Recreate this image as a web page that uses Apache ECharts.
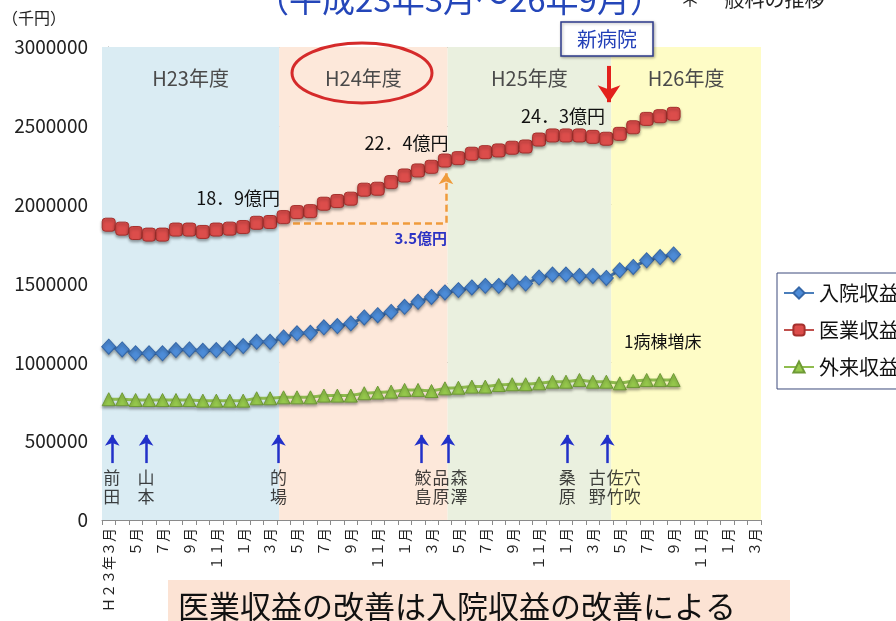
<!DOCTYPE html>
<html>
<head>
<meta charset="utf-8">
<script src="https://cdn.jsdelivr.net/npm/echarts@6/dist/echarts.min.js"></script>
<style>
html,body{margin:0;padding:0;background:#fff}
#chart{width:896px;height:621px}
</style>
</head>
<body>
<div id="chart"></div>
<script>
// 月次の収益推移（千円）  平成23年3月 ～ 平成26年9月
const months = [
  'Ｈ２３年３月','４月','５月','６月','７月','８月','９月','１０月','１１月','１２月','１月','２月',
  '３月','４月','５月','６月','７月','８月','９月','１０月','１１月','１２月','１月','２月',
  '３月','４月','５月','６月','７月','８月','９月','１０月','１１月','１２月','１月','２月',
  '３月','４月','５月','６月','７月','８月','９月','１０月','１１月','１２月','１月','２月',
  '３月'
];

// 入院収益
const nyuin = [
  1099000, 1082000, 1057000, 1057000, 1057000, 1078000, 1082000, 1073000, 1078000, 1089000,
  1103000, 1130000, 1130000, 1158000, 1184000, 1187000, 1222000, 1230000, 1247000, 1285000,
  1299000, 1320000, 1352000, 1384000, 1415000, 1443000, 1458000, 1475000, 1485000, 1485000,
  1510000, 1500000, 1538000, 1557000, 1557000, 1548000, 1548000, 1535000, 1584000, 1605000,
  1647000, 1668000, 1684000
];

// 医業収益
const iryo = [
  1873000, 1848000, 1820000, 1810000, 1810000, 1842000, 1842000, 1827000, 1842000, 1848000,
  1858000, 1885000, 1890000, 1921000, 1953000, 1959000, 2006000, 2023000, 2038000, 2095000,
  2101000, 2143000, 2185000, 2217000, 2240000, 2280000, 2295000, 2323000, 2333000, 2344000,
  2361000, 2369000, 2413000, 2439000, 2439000, 2439000, 2430000, 2418000, 2449000, 2491000,
  2544000, 2561000, 2576000
];

// 外来収益
const gairai = [
  766000, 766000, 761000, 761000, 761000, 761000, 761000, 757000, 757000, 757000,
  757000, 772000, 772000, 778000, 778000, 778000, 789000, 789000, 789000, 804000,
  808000, 814000, 825000, 825000, 818000, 835000, 839000, 846000, 846000, 856000,
  861000, 861000, 867000, 877000, 877000, 888000, 877000, 877000, 867000, 882000,
  888000, 888000, 888000
];

const yTicks = [0, 500000, 1000000, 1500000, 2000000, 2500000, 3000000];

// 年度の区切り（月番号、0 = H23年3月）
const fiscalYears = ['H23年度', 'H24年度', 'H25年度', 'H26年度'];
const fiscalEdges = [-0.5, 12.67, 25.2, 37.36, 48.5];
const fiscalColors = ['#daecf3', '#fde8da', '#eaf0df', '#fefcc6'];

// 医師の着任（月番号）
const staffNames = ['前\n田', '山\n本', '的\n場', '鮫\n島', '品\n原', '森\n澤', '桑\n原', '古\n野', '佐\n竹', '穴\n吹'];
const staffNameAt = [0.22, 2.78, 12.62, 23.37, 24.71, 26.05, 34.09, 36.32, 37.66, 38.93];
const staffArrowAt = [0.26, 2.78, 12.62, 23.27, 25.22, 34.09, 37.07];

// 年度末（3月）の医業収益を注記する月
const fyEndIdx = [12, 24, 36];
const newHospitalAt = 37.2;

const FONT = "'Noto Sans CJK JP', 'Noto Sans', sans-serif";
const oku = v => (v / 100000).toFixed(1);

const chart = echarts.init(document.getElementById('chart'), null, {renderer: 'canvas'});

const markerShadow = {shadowBlur: 3, shadowColor: 'rgba(0,0,0,0.35)', shadowOffsetY: 2};
const lineCommon = {showSymbol: true, showAllSymbol: true, smooth: false};

const option = {
  animation: false,
  backgroundColor: '#ffffff',
  textStyle: {fontFamily: FONT},
  grid: {left: 102, right: 135, top: 47, bottom: 101, containLabel: false},
  legend: {
    orient: 'vertical',
    left: 777, top: 273,
    padding: [10, 8, 12, 6],
    itemGap: 17,
    itemWidth: 30, itemHeight: 14,
    backgroundColor: '#ffffff',
    borderColor: '#3d4a7c', borderWidth: 1,
    textStyle: {fontSize: 20, color: '#111', fontFamily: FONT},
    data: ['入院収益', '医業収益', '外来収益']
  },
  xAxis: [
    {
      type: 'category',
      data: months,
      boundaryGap: true,
      axisLine: {lineStyle: {color: '#8a8a8a', width: 1}},
      axisTick: {show: true, interval: 0, length: 5, lineStyle: {color: '#8a8a8a'}},
      axisLabel: {interval: 1, rotate: 90, fontSize: 14, color: '#222', margin: 8, fontFamily: FONT},
      splitLine: {show: false}
    },
    {type: 'value', min: -0.5, max: 48.5, show: false}
  ],
  yAxis: {
    type: 'value',
    min: yTicks[0], max: yTicks[yTicks.length - 1], interval: 500000,
    offset: 2,
    axisLine: {show: true, lineStyle: {color: '#8a8a8a'}},
    axisTick: {show: true, length: 5, lineStyle: {color: '#8a8a8a'}},
    axisLabel: {fontSize: 19, color: '#222', margin: 12, fontFamily: FONT, formatter: v => String(v)},
    splitLine: {show: true, lineStyle: {color: '#8c8c8c', width: 1}}
  },
  series: [
    {
      // 年度ごとの背景帯
      type: 'scatter', xAxisIndex: 1, yAxisIndex: 0, z: -1,
      data: [], symbolSize: 0, silent: true,
      markArea: {
        silent: true,
        label: {show: true, position: 'insideTop', distance: 21, fontSize: 20, color: '#4a4a4a', fontFamily: FONT},
        data: fiscalYears.map((name, i) => [
          {name: name, xAxis: fiscalEdges[i], itemStyle: {color: fiscalColors[i], opacity: 1}},
          {xAxis: fiscalEdges[i + 1]}
        ])
      }
    },
    Object.assign({
      name: '外来収益', type: 'line', data: gairai, z: 3,
      symbol: 'triangle', symbolSize: 13,
      lineStyle: {color: '#8fbc4e', width: 3},
      itemStyle: Object.assign({color: '#96c94c', borderColor: '#6e9a36', borderWidth: 1}, markerShadow)
    }, lineCommon),
    Object.assign({
      name: '入院収益', type: 'line', data: nyuin, z: 4,
      symbol: 'diamond', symbolSize: [14, 15],
      lineStyle: {color: '#4a7ebb', width: 3},
      itemStyle: Object.assign({color: '#4d8cd8', borderColor: '#3567a8', borderWidth: 1}, markerShadow)
    }, lineCommon),
    Object.assign({
      name: '医業収益', type: 'line', data: iryo, z: 5,
      symbol: 'roundRect', symbolSize: 13,
      lineStyle: {color: '#c0504d', width: 3},
      itemStyle: Object.assign({color: '#dc4d4b', borderColor: '#a5302d', borderWidth: 1}, markerShadow)
    }, lineCommon),
    {
      // 注記：着任矢印・差額矢印・新病院矢印・年度末の金額
      type: 'scatter', xAxisIndex: 1, yAxisIndex: 0, z: 6,
      symbolSize: 0, silent: true,
      data: staffNames.map((n, i) => ({name: n, value: [staffNameAt[i], 207600]})),
      label: {show: true, position: 'inside', formatter: '{b}', fontSize: 17, lineHeight: 19, color: '#111', fontFamily: FONT},
      markLine: {
        silent: true,
        symbol: ['none', 'none'],
        label: {show: false},
        data: staffArrowAt.map(m => [
          {coord: [m, 361000], symbol: 'none', lineStyle: {color: '#2231c9', width: 2.5, type: 'solid'}},
          {coord: [m, 540000], symbol: 'arrow', symbolSize: 11}
        ]).concat([
          [
            {coord: [13.7, 1885000], symbol: 'none', lineStyle: {color: '#ef9b3c', width: 2.5, type: [7, 4]}},
            {coord: [25.08, 1885000], symbol: 'none'}
          ],
          [
            {coord: [25.08, 1885000], symbol: 'none', lineStyle: {color: '#ef9b3c', width: 2.5, type: [7, 4]}},
            {coord: [25.08, 2200000], symbol: 'arrow', symbolSize: 11}
          ],
          [
            {coord: [newHospitalAt, 2880000], symbol: 'none', lineStyle: {color: '#e3211c', width: 4, type: 'solid'}},
            {coord: [newHospitalAt, 2650000], symbol: 'arrow', symbolSize: 17}
          ]
        ])
      },
      markPoint: {
        silent: true,
        symbol: 'circle', symbolSize: 0,
        data: [
          {coord: [fyEndIdx[0], iryo[fyEndIdx[0]]], value: iryo[fyEndIdx[0]], label: {position: [10, -24]}},
          {coord: [fyEndIdx[1], iryo[fyEndIdx[1]]], value: iryo[fyEndIdx[1]], label: {position: [17, -24]}},
          {coord: [fyEndIdx[2], iryo[fyEndIdx[2]]], value: iryo[fyEndIdx[2]], label: {position: [12, -21]}},
          {
            coord: [25.08, 1885000], value: iryo[fyEndIdx[1]] - iryo[fyEndIdx[0]],
            label: {position: [1, 15], color: '#2c33c4', fontSize: 15, fontWeight: 'bold',
                    formatter: p => oku(p.value) + '億円'}
          }
        ],
        label: {
          show: true, align: 'right', verticalAlign: 'middle',
          fontSize: 18, color: '#111', fontFamily: FONT,
          formatter: p => oku(p.value).replace('.', '．') + '億円'
        }
      }
    }
  ],
  graphic: [
    {type: 'text', left: 256, top: -17, z: 10, silent: true,
     style: {text: '（平成23年3月～26年9月）', font: '33px ' + FONT, fill: '#2446b9'}},
    {type: 'text', left: 680, top: -11, z: 10, silent: true,
     style: {text: '＊ 一般科の推移', font: '20px ' + FONT, fill: '#222'}},
    {type: 'text', left: 2, top: 10, z: 10, silent: true,
     style: {text: '（千円）', font: '16px ' + FONT, fill: '#222'}},
    {type: 'rect', z: 10, silent: true,
     shape: {x: 561, y: 22, width: 92, height: 34},
     style: {fill: '#ffffff', stroke: '#2d3a8c', lineWidth: 1.5, shadowBlur: 3, shadowColor: 'rgba(0,0,0,0.3)', shadowOffsetX: 1, shadowOffsetY: 1}},
    {type: 'text', z: 11, silent: true, x: 607, y: 39,
     style: {text: '新病院', font: '20px ' + FONT, fill: '#2340b8', align: 'center', verticalAlign: 'middle'}},
    {type: 'ellipse', z: 10, silent: true,
     shape: {cx: 362, cy: 73, rx: 70, ry: 30},
     style: {fill: 'none', stroke: '#d52a2a', lineWidth: 3}},
    {type: 'text', z: 10, silent: true, x: 624, y: 342,
     style: {text: '1病棟増床', font: '17px ' + FONT, fill: '#111', verticalAlign: 'middle'}},
    {type: 'rect', z: 10, silent: true,
     shape: {x: 168, y: 580, width: 622, height: 50},
     style: {fill: '#fce3d4'}},
    {type: 'text', z: 11, silent: true, x: 178, y: 606,
     style: {text: '医業収益の改善は入院収益の改善による', font: '31px ' + FONT, fill: '#111', verticalAlign: 'middle'}}
  ]
};

chart.setOption(option);
</script>
</body>
</html>
